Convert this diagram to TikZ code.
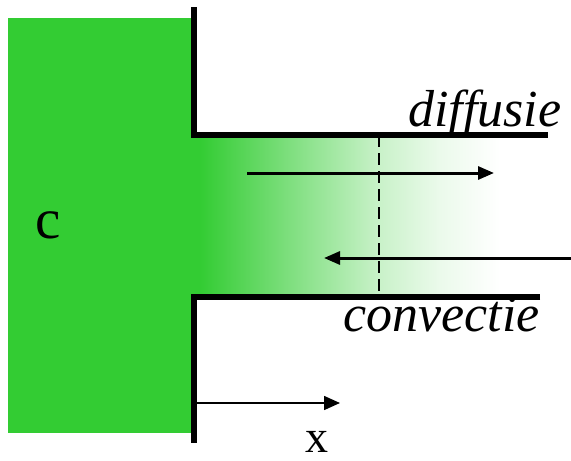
\documentclass[tikz,border=0pt]{standalone}
\usepackage{fontspec}
\setmainfont{Liberation Serif}
\usetikzlibrary{arrows.meta}
\definecolor{vgreen}{RGB}{51,204,51}
\pgfdeclarehorizontalshading{fade}{100bp}{color(0bp)=(vgreen); color(26bp)=(vgreen); color(41bp)=(vgreen!62); color(55bp)=(vgreen!27); color(65bp)=(vgreen!10); color(75bp)=(white); color(100bp)=(white)}
\tikzset{
  wall/.style={line width=6pt, line cap=butt, line join=miter},
  flux/.style={line width=3pt, -{Triangle[length=16pt,width=13pt]}},
  axisarrow/.style={line width=1.6pt, -{Triangle[length=16pt,width=14pt]}},
  lbl/.style={inner sep=0pt, anchor=base west, font=\fontsize{52}{60}\selectfont}
}
\begin{document}
\begin{tikzpicture}[x=1pt,y=-1pt]
\useasboundingbox (0,0) rectangle (571,461);
% reservoir
\fill[vgreen] (8,18) rectangle (194,433);
% gradient in the channel
\shade[shading=fade] (194,135) rectangle (500,297);
% dashed line
\coordinate (dt) at (379,135);
\coordinate (db) at (379,297);
\draw[line width=1.8pt, dash pattern=on 12pt off 6pt] (dt) -- (db);
% walls
\coordinate (wt0) at (194,7);
\coordinate (wt1) at (194,135);
\coordinate (wt2) at (548,135);
\coordinate (wb0) at (540,297);
\coordinate (wb1) at (194,297);
\coordinate (wb2) at (194,443);
\draw[wall] (wt0) -- (wt1) -- (wt2);
\draw[wall] (wb0) -- (wb1) -- (wb2);
% flux arrows
\coordinate (a1s) at (247,173);
\coordinate (a1e) at (494,173);
\draw[flux] (a1s) -- (a1e);
\coordinate (a2s) at (571,258);
\coordinate (a2e) at (324,258);
\draw[flux] (a2s) -- (a2e);
% x axis
\coordinate (xs) at (196,403);
\coordinate (xe) at (340,403);
\draw[axisarrow] (xs) -- (xe);
% labels
\node[lbl] (diff) at (408,126) {\itshape diffusie};
\node[lbl] (conv) at (343,331) {\itshape convectie};
\node[lbl, font=\fontsize{57}{64}\selectfont] (c) at (35,238) {c};
\node[lbl, font=\fontsize{46}{54}\selectfont] (x) at (305,452) {x};
\end{tikzpicture}
\end{document}
